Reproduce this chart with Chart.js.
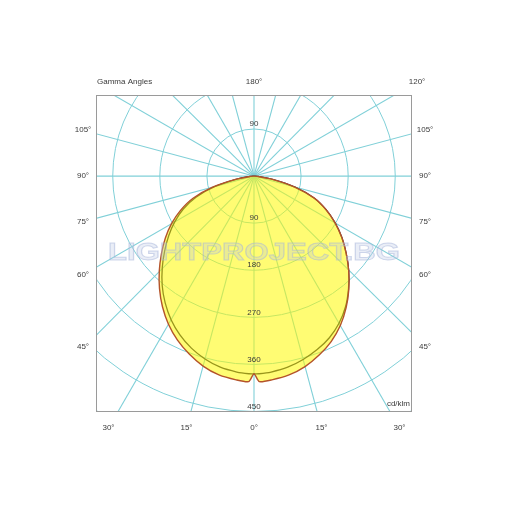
<!DOCTYPE html>
<html>
<head>
<meta charset="utf-8">
<script src="https://cdn.jsdelivr.net/npm/chart.js@4.4.1/dist/chart.umd.min.js"></script>
<style>
  html, body { margin: 0; padding: 0; background: #fff; }
  #wrap { width: 510px; height: 510px; }
</style>
</head>
<body>
<div id="wrap"><canvas id="myChart"></canvas></div>
<script>
// gamma angles (deg from nadir) and intensities in cd/klm
const gammaAngles = [0, 1.5, 5, 10, 15, 20, 25, 30, 35, 40, 45, 50, 55, 60, 65, 70, 75, 80, 85, 90];
const outerLeft  = [378, 393, 391, 386, 376, 362, 346, 327, 305, 281, 256, 231, 207, 182, 155, 124, 82, 36, 8, 0];
const outerRight = [378, 393, 391, 386, 377, 364, 349, 330, 307, 282, 256, 230, 205, 179, 152, 122, 81, 36, 8, 0];
const innerLeft  = [378, 378, 376, 371, 362, 350, 335, 317, 296, 273, 248, 223, 199, 175, 149, 118, 77, 33, 7, 0];
const innerRight = [378, 378, 376, 371, 363, 353, 341, 325, 305, 281, 256, 230, 205, 179, 152, 122, 81, 36, 8, 0];

const ringValues = [90, 180, 270, 360, 450, 540];
const ringLabels = ['90', '180', '270', '360', '450'];
const spokeAngles = [0, 15, 30, 45, 60, 75, 90, 105, 120, 135, 150, 165];
const sideLabels = ['105°', '90°', '75°', '60°', '45°'];
const sideAngles = [105, 90, 75, 60, 45];
const bottomLabels = ['30°', '15°', '0°', '15°', '30°'];
const bottomAngles = [-30, -15, 0, 15, 30];

const rad = d => d * Math.PI / 180;

function toPoints(left, right) {
  const pts = [];
  for (let i = gammaAngles.length - 1; i >= 0; i--) {
    const g = rad(gammaAngles[i]);
    pts.push({ x: -left[i] * Math.sin(g), y: -left[i] * Math.cos(g) });
  }
  for (let i = 1; i < gammaAngles.length; i++) {
    const g = rad(gammaAngles[i]);
    pts.push({ x: right[i] * Math.sin(g), y: -right[i] * Math.cos(g) });
  }
  return pts;
}

const gridColor = 'rgb(128, 208, 216)';
const font = '"Liberation Sans", Arial, sans-serif';

function drawGrid(chart) {
  const { ctx, chartArea: a, scales: { x, y } } = chart;
  const cx = x.getPixelForValue(0), cy = y.getPixelForValue(0);
  const k = x.getPixelForValue(100) - cx;
  ctx.save();
  ctx.beginPath();
  ctx.rect(a.left, a.top, a.right - a.left, a.bottom - a.top);
  ctx.clip();
  ctx.strokeStyle = gridColor;
  ctx.lineWidth = 1;
  ringValues.forEach(v => {
    ctx.beginPath();
    ctx.arc(cx, cy, v * k / 100, 0, Math.PI * 2);
    ctx.stroke();
  });
  ctx.lineWidth = 1.1;
  spokeAngles.forEach(d => {
    // exact diagonals came out grey, nudge them a touch
    const t = rad(d % 90 === 45 ? d + 0.25 : d);
    const dx = 700 * Math.sin(t), dy = 700 * Math.cos(t);
    ctx.beginPath();
    ctx.moveTo(cx - dx, cy - dy);
    ctx.lineTo(cx + dx, cy + dy);
    ctx.stroke();
  });
  ctx.restore();
}

const polarGrid = {
  id: 'polarGrid',
  beforeDatasetsDraw(chart) {
    drawGrid(chart);
  },
  afterDatasetsDraw(chart) {
    const { ctx, chartArea: a, scales: { x, y } } = chart;
    const cx = x.getPixelForValue(0), cy = y.getPixelForValue(0);
    const k = x.getPixelForValue(100) - cx;

    // watermark
    ctx.save();
    ctx.font = 'bold 30px ' + font;
    const txt = 'LIGHTPROJECT.BG';
    const w = ctx.measureText(txt).width;
    ctx.translate(108, 254);
    ctx.scale(292 / w, 0.78);
    ctx.textBaseline = 'middle';
    ctx.fillStyle = 'rgba(180, 195, 228, 0.28)';
    ctx.strokeStyle = 'rgba(165, 180, 218, 0.5)';
    ctx.lineWidth = 1.2;
    ctx.fillText(txt, 0, 0);
    ctx.strokeText(txt, 0, 0);
    ctx.restore();

    ctx.save();
    ctx.fillStyle = '#3a3a3a';
    ctx.font = '8px ' + font;
    ctx.textAlign = 'center';
    ctx.textBaseline = 'middle';
    // ring labels
    ctx.fillText(ringLabels[0], cx, cy - ringValues[0] * k / 100 - 5);
    ringLabels.forEach((t, i) => {
      ctx.fillText(t, cx, cy + ringValues[i] * k / 100 - 5);
    });
    // frame
    ctx.strokeStyle = '#9a9a9a';
    ctx.lineWidth = 1;
    ctx.strokeRect(a.left + 0.5, a.top + 0.5, a.right - a.left - 1, a.bottom - a.top - 1);
    // angle labels
    sideAngles.forEach((d, i) => {
      const dy = 171 / Math.tan(rad(d));
      ctx.fillText(sideLabels[i], cx + 171, cy + dy);
      ctx.fillText(sideLabels[i], cx - 171, cy + dy);
    });
    bottomAngles.forEach((d, i) => {
      ctx.fillText(bottomLabels[i], cx + 252 * Math.tan(rad(d)), cy + 252);
    });
    ctx.fillText('180°', cx, 82);
    ctx.fillText('120°', cx + 163, 82);
    ctx.textAlign = 'left';
    ctx.fillText('Gamma Angles', 97, 82);
    ctx.textAlign = 'right';
    ctx.fillText('cd/klm', a.right - 2, a.bottom - 8);
    ctx.restore();
  }
};

new Chart(document.getElementById('myChart'), {
  type: 'scatter',
  data: {
    datasets: [{
      data: toPoints(outerLeft, outerRight),
      showLine: true,
      fill: 'shape',
      backgroundColor: 'rgba(255, 250, 0, 0.55)',
      borderColor: '#b4532a',
      borderWidth: 1.4,
      pointRadius: 0,
      tension: 0.2
    }, {
      data: toPoints(innerLeft, innerRight),
      showLine: true,
      fill: false,
      borderColor: '#1c1c3c',
      borderWidth: 1.3,
      pointRadius: 0,
      tension: 0.2
    }]
  },
  options: {
    responsive: true,
    maintainAspectRatio: false,
    animation: false,
    layout: { padding: { left: 96, right: 98, top: 95, bottom: 98 } },
    plugins: { legend: { display: false }, tooltip: { enabled: false } },
    scales: {
      x: { type: 'linear', min: -302, max: 302, display: false },
      y: { type: 'linear', min: -451, max: 155, display: false }
    }
  },
  plugins: [polarGrid]
});
</script>
</body>
</html>
